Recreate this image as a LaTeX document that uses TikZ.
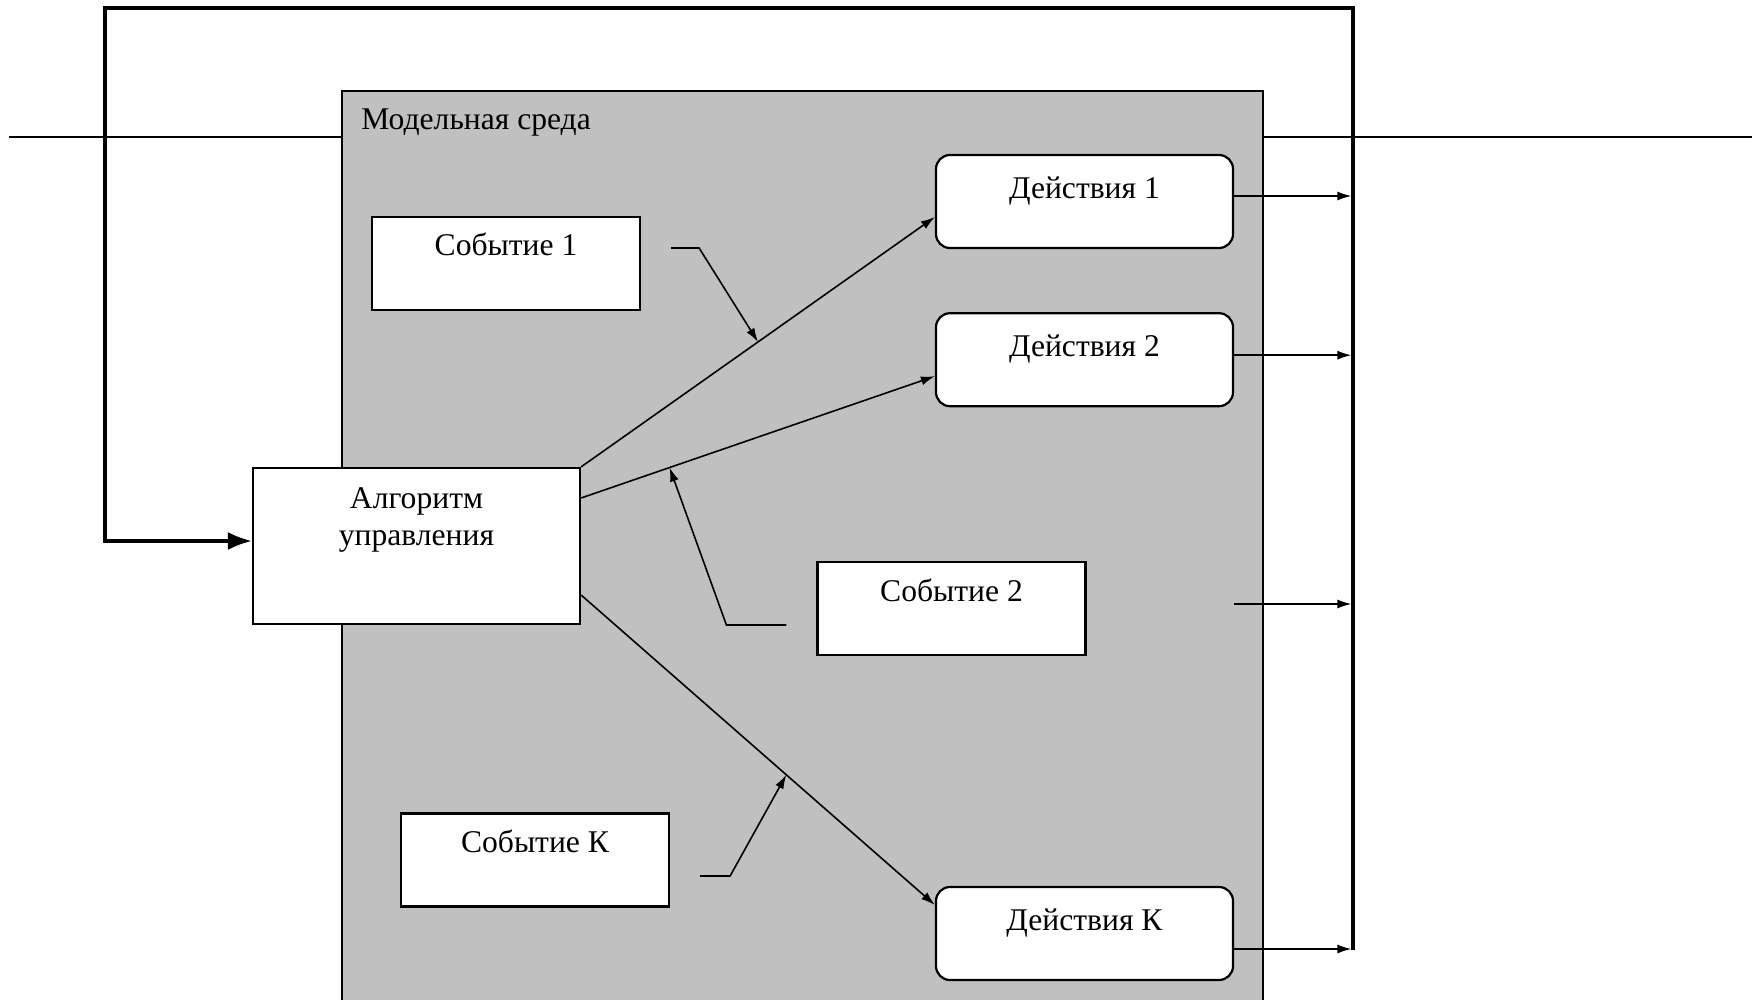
\documentclass[tikz,border=0pt]{standalone}
\usepackage{fontspec}
\setmainfont{Liberation Serif}
\usetikzlibrary{positioning, arrows.meta}
\definecolor{envgray}{HTML}{C0C0C0}
\tikzset{
    every node/.style={inner sep=0pt}, % boxes are sized by hand
    envbox/.style={draw, line width=0.8pt, fill=envgray, minimum width=460.5pt, minimum height=459.5pt},
    evbox/.style={draw, line width=1.1pt, fill=white, minimum width=134pt, text height=19.5pt, text depth=27pt},
    actbox/.style={draw, line width=1.1pt, fill=white, rounded corners=7pt, minimum width=148.5pt, text height=21.7pt, text depth=24.8pt},
    algbox/.style={draw, line width=1.1pt, fill=white, text width=163.5pt, align=center, text height=20pt, text depth=58pt},
    link/.style={line width=0.8pt, -{Latex[length=7pt, width=4.5pt]}},
    bus/.style={line width=1.6pt},
    }

\begin{document}
\begin{tikzpicture}[x=0.5pt, y=-0.5pt, font=\fontsize{15.8}{18.8}\selectfont]
\useasboundingbox (0,0) rectangle (1756,1000);
\draw[line width=1.1pt] (9,137) -- (1752,137);

% model environment
\node[envbox] (env) at (802.5,550.5) {};
\node[anchor=base west] (envname) at (361,130) {Модельная среда};

\node[algbox] (alg) at (416.5,546) {Алгоритм\\управления};
\node[evbox] (ev1) at (506,263.5) {Событие 1};
\node[evbox] (ev2) at (951.5,608.5) {Событие 2};
\node[evbox] (evK) at (535,860) {Событие К};
\node[actbox] (act1) at (1084.5,201.5) {Действия 1};
\node[actbox, below=31.5pt of act1] (act2) {Действия 2};
\node[actbox] (actK) at (1084.5,933.5) {Действия К};

% feedback bus
\coordinate (bustop) at (1353,8);
\coordinate (busbot) at (1353,950);
\coordinate (fbcorner) at (105,8);
\draw[bus, -{Latex[length=12pt, width=9pt]}] (busbot) -- (bustop) -- (fbcorner) |- ([yshift=2.5pt]alg.west);

\draw[link] (alg.north east) -- coordinate[pos=0.5] (hit1) ([yshift=-7.75pt]act1.west);
\draw[link] ([yshift=24pt]alg.east) -- coordinate[pos=0.25] (hit2) ([yshift=-8.25pt]act2.west);
\draw[link] ([yshift=-24.5pt]alg.east) -- coordinate[pos=0.58] (hitK) ([yshift=14.25pt]actK.west);

% events
\draw[link] ([shift={(15pt,7.75pt)}]ev1.east) -- ++(14pt,0) -- (hit1);
\draw[link] ([shift={(-15pt,-8.25pt)}]ev2.west) -- ++(-30pt,0) -- (hit2);
\draw[link] ([shift={(15pt,-8pt)}]evK.east) -- ++(15pt,0) -- (hitK);

% outputs
\coordinate (out1) at ([yshift=2.75pt]act1.east);
\coordinate (out2) at ([yshift=2.25pt]act2.east);
\coordinate (out3) at (1234,604);
\coordinate (outK) at ([yshift=-7.75pt]actK.east);
\foreach \o in {out1, out2, out3, outK}
    \draw[link, shorten >=0.8pt] (\o) -- (\o -| bustop);
\end{tikzpicture}
\end{document}
